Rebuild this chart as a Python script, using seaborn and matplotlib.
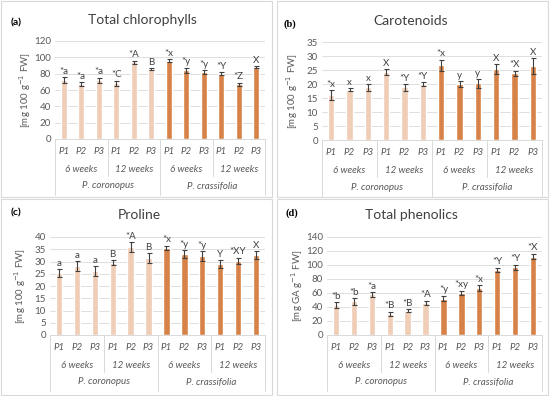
import numpy as np
import pandas as pd
import matplotlib
matplotlib.use("Agg")
import matplotlib.pyplot as plt
import matplotlib.transforms as mtransforms
from matplotlib.patches import Rectangle
import seaborn as sns

# category labels
plants = ["P1", "P2", "P3"] * 4
weeks = ["6 weeks", "12 weeks", "6 weeks", "12 weeks"]
species = ["P. coronopus", "P. crassifolia"]
bar_species = [species[0]] * 6 + [species[1]] * 6

# (a) total chlorophylls
chl = [72, 67, 72, 68, 94, 86, 96, 84, 82, 80, 67, 88]
chl_err = [4, 2.5, 3, 3.5, 2, 1, 1.5, 3.5, 2.5, 2, 2, 1]
chl_lab = ["*a", "*a", "*a", "*C", "*A", "B", "*x", "*y", "*y", "*Y", "*Z", "X"]

# (b) carotenoids
car = [16, 18, 18.8, 24.2, 18.8, 20, 26.7, 20, 20.2, 25.2, 23.8, 26.5]
car_err = [1.8, 0.5, 1.2, 1, 1.2, 0.7, 2, 1, 1.5, 1.8, 1, 2.8]
car_lab = ["*x", "x", "x", "X", "*Y", "*Y", "*x", "y", "y", "X", "*X", "X"]

# (c) proline
pro = [25.3, 28.2, 26, 29.5, 36, 31.3, 35.5, 33, 32.2, 29, 30.3, 32.7]
pro_err = [1.5, 2, 2, 1, 2, 2, 1, 1.5, 2, 1.5, 1.2, 1.5]
pro_lab = ["a", "a", "a", "B", "*A", "B", "*x", "*y", "*y", "Y", "*XY", "X"]

# (d) total phenolics
phe = [43, 48, 58, 30, 35, 46, 52, 60, 67, 93, 97, 112]
phe_err = [4, 5, 3, 3.5, 2, 3, 4, 3.5, 4, 3, 3.5, 4]
phe_lab = ["*b", "*b", "*a", "*B", "*B", "*A", "*y", "*xy", "*x", "*Y", "*Y", "*X"]

sns.set_style("white")
plt.rcParams["font.family"] = ["Lato", "DejaVu Sans"]

W, H = 550, 396
fig = plt.figure(figsize=(W / 100, H / 100), dpi=100)

light = "#F8CBAD"
dark = "#ED7D31"
grid_c = "#d9d9d9"
txt_c = "#595959"
fs = 7


def add_panel(box, vals, errs, labs, ymax, ystep, ylabel, title, title_xy, tag, tag_xy, tag_serif):
    l, r, t, b = box
    ax = fig.add_axes([l / W, 1 - b / H, (r - l) / W, (b - t) / H])
    df = pd.DataFrame({"cond": [f"{s}{i}" for i, s in enumerate(plants)],
                       "val": vals, "sp": bar_species})
    sns.barplot(data=df, x="cond", y="val", hue="sp", palette=[light, dark],
                dodge=False, width=0.35, legend=False, ax=ax, zorder=2)
    ax.errorbar(range(12), vals, yerr=errs, fmt="none", ecolor="#404040",
                elinewidth=0.8, capsize=1.8, capthick=0.8, zorder=3)
    for i in range(12):
        ax.annotate(labs[i], (i, vals[i] + errs[i]), xytext=(0, 1),
                    textcoords="offset points", ha="center", va="bottom",
                    fontsize=fs, color="#404040")
    ax.set_xlim(-0.5, 11.5)
    ax.set_ylim(0, ymax)
    ax.set_yticks(np.arange(0, ymax + 0.1, ystep))
    ax.yaxis.grid(True, color=grid_c, linewidth=0.6, zorder=0)
    ax.set_axisbelow(True)
    for s in ["top", "right", "left"]:
        ax.spines[s].set_visible(False)
    ax.spines["bottom"].set_color(grid_c)
    ax.spines["bottom"].set_linewidth(0.7)
    ax.tick_params(length=0, labelsize=fs, colors=txt_c, pad=3)
    ax.set_xticks(range(12))
    ax.set_xticklabels([])
    ax.set_xlabel("")
    ax.set_ylabel(ylabel, fontsize=fs, color=txt_c)
    ax.yaxis.set_label_coords(-22 / (r - l), 0.5)

    hpx = b - t
    tr = mtransforms.blended_transform_factory(ax.transData, ax.transAxes)
    for i in range(12):
        ax.text(i, -12 / hpx, plants[i], transform=tr, ha="center", va="center",
                fontsize=fs, style="italic", color=txt_c)
    for k in range(4):
        ax.text(3 * k + 1, -30 / hpx, weeks[k], transform=tr, ha="center", va="center",
                fontsize=fs, style="italic", color=txt_c)
    for k in range(2):
        ax.text(6 * k + 2.5, -47 / hpx, species[k], transform=tr, ha="center", va="center",
                fontsize=fs, style="italic", color=txt_c)
    for x in [-0.5, 5.5, 11.5]:
        ax.plot([x, x], [0, -56 / hpx], transform=tr, color=grid_c, lw=0.7, clip_on=False)
    for x in [2.5, 8.5]:
        ax.plot([x, x], [0, -37 / hpx], transform=tr, color=grid_c, lw=0.7, clip_on=False)

    fig.text(title_xy[0] / W, 1 - title_xy[1] / H, title, ha="center", va="center",
             fontsize=10, color="#404040")
    fam = ["Liberation Serif"] if tag_serif else ["Lato", "DejaVu Sans"]
    fig.text(tag_xy[0] / W, 1 - tag_xy[1] / H, tag, ha="left", va="center",
             fontsize=7.5, fontweight="bold", family=fam, color="black")
    return ax


# panel frames
for (x0, y0) in [(1, 1), (277, 1), (1, 199), (277, 199)]:
    fig.patches.append(Rectangle((x0 / W, 1 - (y0 + 196) / H), 271 / W, 196 / H,
                                 transform=fig.transFigure, fill=False,
                                 edgecolor=grid_c, linewidth=0.8))

add_panel((55, 265, 41, 139), chl, chl_err, chl_lab, 120, 20,
          "[mg 100 g$^{-1}$ FW]", "Total chlorophylls", (142, 20), "(a)", (11, 23), False)
add_panel((322, 542, 42, 140), car, car_err, car_lab, 35, 5,
          "[mg 100 g$^{-1}$ FW]", "Carotenoids", (411, 21), "(b)", (284, 24), True)
add_panel((50, 265, 237, 335), pro, pro_err, pro_lab, 40, 5,
          "[mg 100 g$^{-1}$ FW]", "Proline", (139, 215), "(c)", (11, 213), False)
add_panel((327, 542, 237, 335), phe, phe_err, phe_lab, 140, 20,
          "[mg GA g$^{-1}$ FW]", "Total phenolics", (411, 215), "(d)", (286, 213), True)

fig.savefig("out.png", dpi=100)
